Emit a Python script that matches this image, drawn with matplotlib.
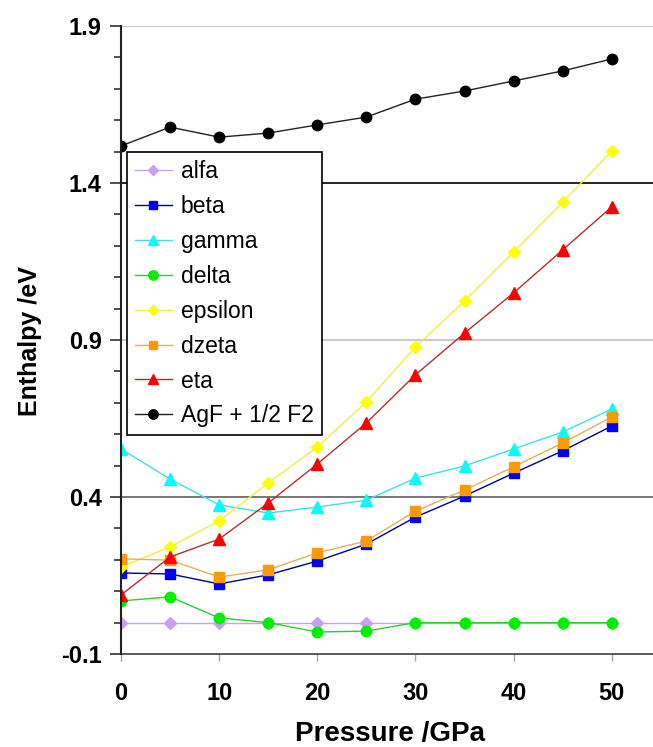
import matplotlib
matplotlib.use("Agg")
import matplotlib.pyplot as plt
from matplotlib.ticker import MultipleLocator, FixedLocator

plt.rcParams['font.family'] = ['Liberation Sans', 'DejaVu Sans']

pressure = [0, 5, 10, 15, 20, 25, 30, 35, 40, 45, 50]

alfa = [0.0, 0.0, 0.0, 0.0, 0.0, 0.0, 0.0, 0.0, 0.0, 0.0, 0.0]
beta = [0.158, 0.155, 0.123, 0.152, 0.196, 0.25, 0.336, 0.403, 0.476, 0.547, 0.626]
gamma = [0.553, 0.457, 0.375, 0.349, 0.368, 0.39, 0.46, 0.499, 0.553, 0.607, 0.68]
delta = [0.069, 0.082, 0.015, 0.0, -0.03, -0.027, 0.0, 0.0, 0.0, 0.0, 0.0]
epsilon = [0.177, 0.241, 0.324, 0.445, 0.559, 0.703, 0.878, 1.024, 1.18, 1.339, 1.502]
dzeta = [0.203, 0.199, 0.145, 0.168, 0.222, 0.26, 0.355, 0.422, 0.496, 0.572, 0.655]
eta = [0.088, 0.209, 0.266, 0.381, 0.505, 0.636, 0.789, 0.922, 1.05, 1.187, 1.324]
agf = [1.518, 1.578, 1.546, 1.559, 1.585, 1.61, 1.667, 1.693, 1.725, 1.757, 1.795]

series_names = ["alfa", "beta", "gamma", "delta", "epsilon", "dzeta", "eta", "AgF + 1/2 F2"]
series_values = [alfa, beta, gamma, delta, epsilon, dzeta, eta, agf]
marker_colors = ["#c8a0f0", "#0000ff", "#00ffff", "#00ee00", "#ffff00", "#ff9900", "#ff0000", "#000000"]
line_colors = ["#c8a0f0", "#000090", "#40e0e0", "#30cc30", "#f0f040", "#e0b060", "#b03030", "#202020"]
markers = ["D", "s", "^", "o", "D", "s", "^", "o"]
msizes = [6, 6.5, 8, 7.5, 6, 7, 8, 7.5]

y_major = [-0.1, 0.4, 0.9, 1.4, 1.9]
grid_colors = ["#404040", "#606060", "#c0c0c0", "#000000", "#c0c0c0"]
x_ticks = [0, 10, 20, 30, 40, 50]

fig = plt.figure(figsize=(6.53, 7.47), dpi=100)
ax = fig.add_axes([121/653, 1 - 654/747, 1 - 121/653, (654 - 26)/747])

for yv, gc in zip(y_major[1:], grid_colors[1:]):
    ax.axhline(yv, color=gc, lw=1.2, zorder=0)

for name, vals, mc, lc, m, ms in zip(series_names, series_values, marker_colors,
                                      line_colors, markers, msizes):
    ax.plot(pressure, vals, color=lc, lw=1.0, marker=m, markersize=ms,
            markerfacecolor=mc, markeredgecolor=mc, label=name)

ax.set_xlim(0, 54.2)
ax.set_ylim(-0.1, 1.9)
ax.xaxis.set_major_locator(FixedLocator(x_ticks))
ax.yaxis.set_major_locator(FixedLocator(y_major))
ax.yaxis.set_minor_locator(MultipleLocator(0.1))
ax.set_yticklabels([f"{v:.1f}" for v in y_major])

for s in ["top", "right"]:
    ax.spines[s].set_visible(False)
ax.spines["left"].set_color("#202020")
ax.spines["left"].set_linewidth(1.5)
ax.spines["bottom"].set_color("#404040")
ax.spines["bottom"].set_linewidth(1.2)
ax.spines["left"].set_zorder(5)

ax.tick_params(axis="y", which="major", direction="out", length=8, width=1.2,
               color="#303030", labelsize=17, pad=6)
ax.tick_params(axis="y", which="minor", direction="out", length=5, width=1.2,
               color="#303030")
ax.tick_params(axis="x", which="major", direction="out", length=5, width=1.0,
               color="#a0a0a0", labelsize=17, pad=15)
for lab in ax.get_xticklabels() + ax.get_yticklabels():
    lab.set_fontweight("bold")

ax.set_xlabel("Pressure /GPa", fontsize=20, fontweight="bold")
ax.xaxis.set_label_coords((390 - 121) / 532, -(734 - 654) / 628)
ax.xaxis.label.set_verticalalignment("center")
ax.set_ylabel("Enthalpy /eV", fontsize=18, fontweight="bold")
ax.yaxis.set_label_coords(-(121 - 30) / 532, (654 - 341) / 628)
ax.yaxis.label.set_verticalalignment("center")

leg = ax.legend(loc="upper left", bbox_to_anchor=(6/532, (654 - 152)/628),
                fontsize=16.5, frameon=True, fancybox=False, edgecolor="#000000",
                framealpha=1.0, borderpad=0.35, labelspacing=0.52,
                handlelength=1.6, handletextpad=0.4, borderaxespad=0,
                markerscale=0.9)
leg.get_frame().set_linewidth(1.2)
leg.set_zorder(10)

fig.savefig("out.png", dpi=100)
